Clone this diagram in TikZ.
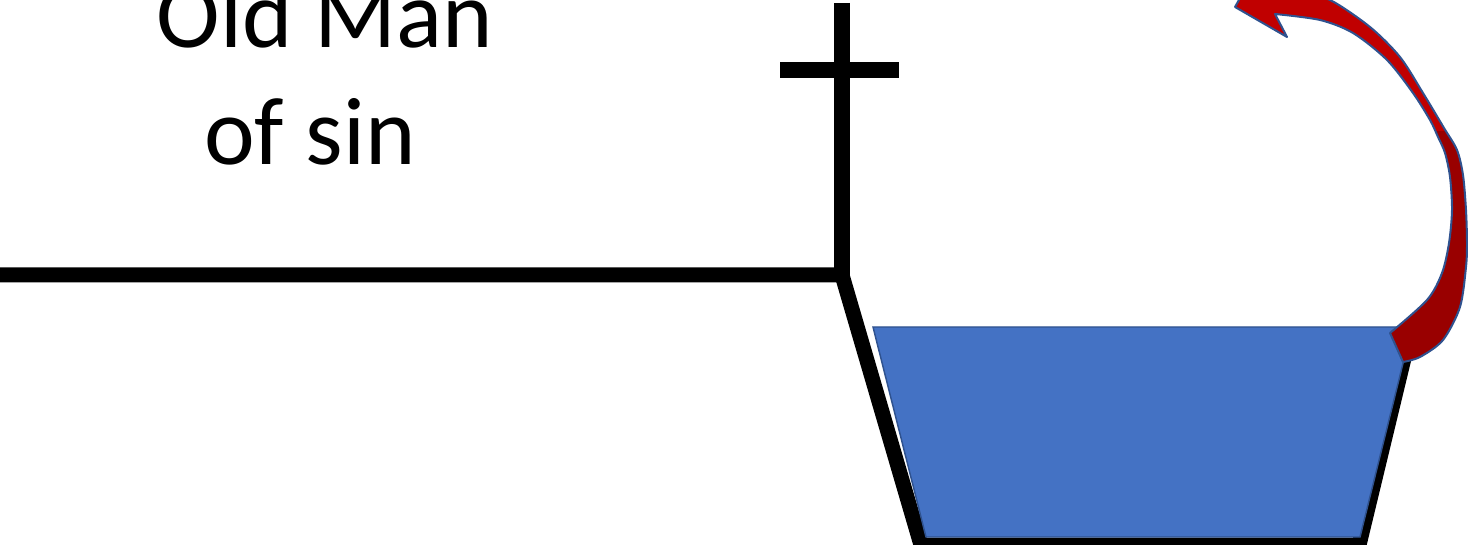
\documentclass[tikz,border=0pt]{standalone}
\usepackage{fontspec}
\setmainfont{Carlito}
\definecolor{bucketblue}{HTML}{4472C4}
\definecolor{bucketedge}{HTML}{2F528F}
\definecolor{arrowtop}{HTML}{C00000}
\definecolor{arrowbot}{HTML}{990000}
\newcommand{\myArrowPath}{(1403,362) -- (1390,333)
 -- plot[smooth, tension=0.5] coordinates {(1390,333) (1427,300) (1442,273) (1449,243) (1452,210) (1450,177) (1445,153) (1438,137) (1430,120) (1413,93) (1387,60) (1353,33) (1320,20) (1275,14)}
 -- (1287,37) -- (1235,7) -- (1257,-32) -- (1266,-9)
 -- plot[smooth, tension=0.5] coordinates {(1266,-9) (1300,-6) (1330,0) (1370,27) (1400,57) (1423,93) (1444,128) (1457,150) (1463,175) (1466,210) (1467,243) (1466,267) (1460,307) (1443,340) (1420,357) (1403,362)}
 -- cycle}
\begin{document}
\begin{tikzpicture}[x=0.75pt,y=-0.75pt,
  blackline/.style={line width=11.25pt, black, line join=miter},
  textlbl/.style={font=\fontsize{72}{86}\selectfont, inner sep=0pt, anchor=base},
  bucket/.style={fill=bucketblue, draw=bucketedge, line width=1.1pt},
  arrowline/.style={draw=bucketedge, line width=1.5pt, line join=round}]
\useasboundingbox (0,0) rectangle (1468,545);
\clip (0,0) rectangle (1468,545);
% text
\node[textlbl] (oldman) at (325,48) {Old Man};
\node[textlbl] (ofsin) at (310,165) {of sin};
% ground line and bucket outline
\coordinate (hl) at (-20,275);
\coordinate (jn) at (842,275);
\coordinate (bl) at (921,545);
\coordinate (br) at (1359,545);
\coordinate (rt) at (1405.5,352);
\draw[blackline] (hl) -- (jn) -- (bl) -- (br) -- (rt);
% cross
\coordinate (crtop) at (842,3);
\coordinate (crbot) at (842,279);
\coordinate (barl) at (780,70);
\coordinate (barr) at (899,70);
\draw[blackline, line width=12pt] (crtop) -- (crbot);
\draw[blackline, line width=12pt] (barl) -- (barr);
% water
\coordinate (w1) at (873,327);
\coordinate (w2) at (1412,327);
\coordinate (w3) at (1360,537);
\coordinate (w4) at (926,537);
\draw[bucket] (w1) -- (w2) -- (w3) -- (w4) -- cycle;
% curved arrow
\fill[arrowtop] \myArrowPath;
\begin{scope}
  \clip (1370,132) rectangle (1480,400);
  \fill[arrowbot] \myArrowPath;
\end{scope}
\draw[arrowline] \myArrowPath;
\end{tikzpicture}
\end{document}
